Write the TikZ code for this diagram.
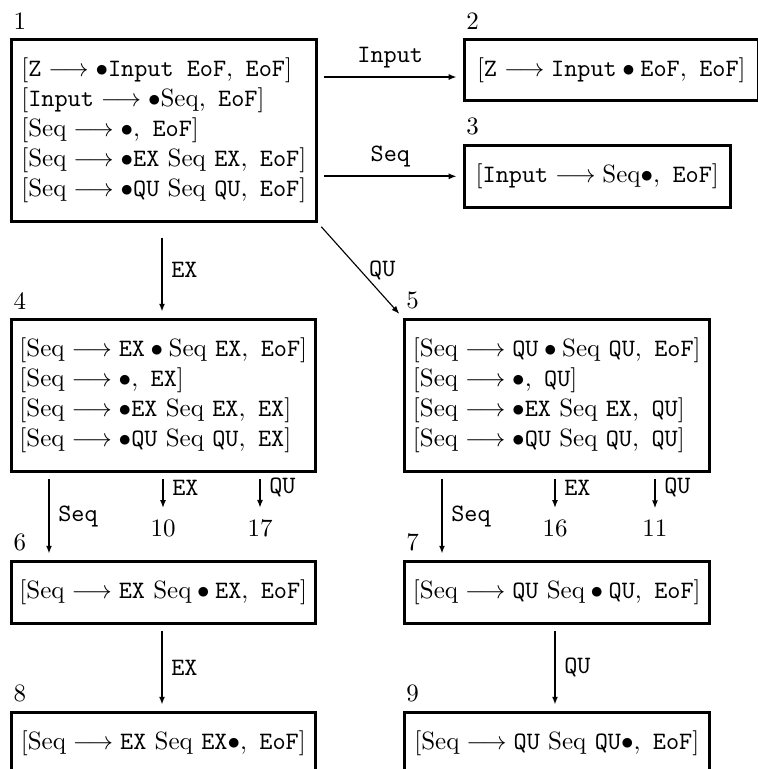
\documentclass[tikz,border=0pt]{standalone}
\usetikzlibrary{arrows.meta,calc}
\newcommand\pxw[1]{#1*0.4pt}
\newcommand\sq{\mathrm{Seq}}
\newcommand\ar{\longrightarrow}
\begin{document}
\begin{tikzpicture}[x=0.4pt,y=-0.4pt,
  box/.style={draw, line width=1.05pt, anchor=north west, inner sep=0pt, align=left,
    font=\fontsize{10}{12}\selectfont},
  num/.style={anchor=south west, inner sep=0pt},
  lbl/.style={font=\ttfamily},
  arr/.style={-{Latex[length=3.2pt,width=2.4pt]}, line width=0.8pt},
  thinarr/.style={-{Latex[length=3.2pt,width=2.4pt]}, line width=0.45pt, shorten <=2.2pt, shorten >=2.2pt},
  gap/.style={shorten <=2.5pt, shorten >=2.5pt}
]
\useasboundingbox (0,0) rectangle (758,769);

% states
\node[box, minimum width=\pxw{305}, minimum height=\pxw{182}] (s1) at (10,38)
  {$[\texttt{Z} \ar \bullet\texttt{Input EoF},\ \texttt{EoF}]$\\
   $[\texttt{Input} \ar \bullet\sq,\ \texttt{EoF}]$\\
   $[\sq \ar \bullet,\ \texttt{EoF}]$\\
   $[\sq \ar \bullet\texttt{EX}\ \sq\ \texttt{EX},\ \texttt{EoF}]$\\
   $[\sq \ar \bullet\texttt{QU}\ \sq\ \texttt{QU},\ \texttt{EoF}]$};
\node[box, minimum width=\pxw{294}, minimum height=\pxw{61}] (s2) at (463,38)
  {$[\texttt{Z} \ar \texttt{Input} \bullet \texttt{EoF},\ \texttt{EoF}]$};
\node[box, minimum width=\pxw{266}, minimum height=\pxw{62}] (s3) at (463,144)
  {$[\texttt{Input} \ar \sq\bullet,\ \texttt{EoF}]$};
\node[box, minimum width=\pxw{304}, minimum height=\pxw{152}] (s4) at (10,318)
  {$[\sq \ar \texttt{EX} \bullet \sq\ \texttt{EX},\ \texttt{EoF}]$\\
   $[\sq \ar \bullet,\ \texttt{EX}]$\\
   $[\sq \ar \bullet\texttt{EX}\ \sq\ \texttt{EX},\ \texttt{EX}]$\\
   $[\sq \ar \bullet\texttt{QU}\ \sq\ \texttt{QU},\ \texttt{EX}]$};
\node[box, minimum width=\pxw{305}, minimum height=\pxw{152}] (s5) at (403,318)
  {$[\sq \ar \texttt{QU} \bullet \sq\ \texttt{QU},\ \texttt{EoF}]$\\
   $[\sq \ar \bullet,\ \texttt{QU}]$\\
   $[\sq \ar \bullet\texttt{EX}\ \sq\ \texttt{EX},\ \texttt{QU}]$\\
   $[\sq \ar \bullet\texttt{QU}\ \sq\ \texttt{QU},\ \texttt{QU}]$};
\node[box, minimum width=\pxw{304}, minimum height=\pxw{62}] (s6) at (10,560)
  {$[\sq \ar \texttt{EX}\ \sq \bullet \texttt{EX},\ \texttt{EoF}]$};
\node[box, minimum width=\pxw{305}, minimum height=\pxw{62}] (s7) at (403,560)
  {$[\sq \ar \texttt{QU}\ \sq \bullet \texttt{QU},\ \texttt{EoF}]$};
\node[box, minimum width=\pxw{304}, minimum height=\pxw{62}] (s8) at (10,711)
  {$[\sq \ar \texttt{EX}\ \sq\ \texttt{EX}\bullet,\ \texttt{EoF}]$};
\node[box, minimum width=\pxw{305}, minimum height=\pxw{62}] (s9) at (403,711)
  {$[\sq \ar \texttt{QU}\ \sq\ \texttt{QU}\bullet,\ \texttt{EoF}]$};

% state numbers
\node[num] (l1) at ($(s1.north west)+(3,-8)$) {1};
\node[num] (l2) at ($(s2.north west)+(3,-8)$) {2};
\node[num] (l3) at ($(s3.north west)+(3,-8)$) {3};
\node[num] (l4) at ($(s4.north west)+(3,-8)$) {4};
\node[num] (l5) at ($(s5.north west)+(3,-8)$) {5};
\node[num] (l6) at ($(s6.north west)+(3,-8)$) {6};
\node[num] (l7) at ($(s7.north west)+(3,-8)$) {7};
\node[num] (l8) at ($(s8.north west)+(3,-8)$) {8};
\node[num] (l9) at ($(s9.north west)+(3,-8)$) {9};

% targets outside the picture
\node (n10) at (163,528) {10};
\node (n17) at (260,528) {17};
\node (n16) at (555,528) {16};
\node (n11) at (655,528) {11};

% helper coordinates
\coordinate (yin) at (0,77);
\coordinate (xa) at (162,0);
\coordinate (xb) at (49,0);
\coordinate (xc) at (442,0);
\coordinate (xd) at (555,0);

% transitions
\draw[arr, gap] (s1.east |- yin) -- node[lbl, above] (tin) {Input} (s2.west |- yin);
\draw[arr, gap] (s1.east |- s3.west) -- node[lbl, above] (tseq) {Seq} (s3.west);
\draw[arr, shorten <=6pt, shorten >=2.5pt] (s1.south -| xa) -- node[lbl, right] (tex) {EX} (s4.north -| xa);
\draw[thinarr] (s1.south east) -- node[lbl, right] (tqu) {QU} (s5.north west);

\draw[arr, gap] (s4.south -| xb) -- node[lbl, right] (t46) {Seq} (s6.north -| xb);
\draw[arr, shorten <=2.5pt, shorten >=1pt] (s4.south -| n10) -- node[lbl, right, pos=0.4] (t410) {EX} (n10.north);
\draw[arr, shorten <=2.5pt, shorten >=1pt] (s4.south -| n17) -- node[lbl, right, pos=0.4] (t417) {QU} (n17.north);
\draw[arr, gap] (s6.south -| xa) -- node[lbl, right] (t68) {EX} (s8.north -| xa);

\draw[arr, gap] (s5.south -| xc) -- node[lbl, right] (t57) {Seq} (s7.north -| xc);
\draw[arr, shorten <=2.5pt, shorten >=1pt] (s5.south -| n16) -- node[lbl, right, pos=0.4] (t516) {EX} (n16.north);
\draw[arr, shorten <=2.5pt, shorten >=1pt] (s5.south -| n11) -- node[lbl, right, pos=0.4] (t511) {QU} (n11.north);
\draw[arr, gap] (s7.south -| xd) -- node[lbl, right] (t79) {QU} (s9.north -| xd);
\end{tikzpicture}
\end{document}
